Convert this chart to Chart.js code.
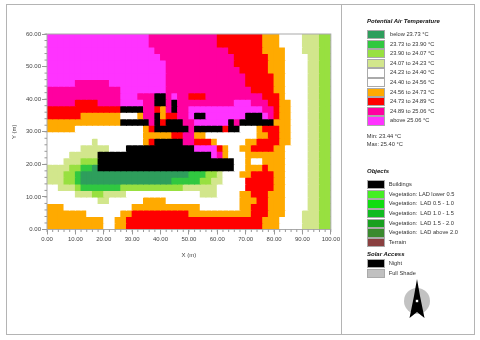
<!DOCTYPE html>
<html>
<head>
<meta charset="utf-8">
<title>Potential Air Temperature</title>
<script src="https://cdn.jsdelivr.net/npm/chart.js@4/dist/chart.umd.min.js"></script>
<style>
    html, body { margin: 0; padding: 0; background: #fff; }
    #page { position: relative; width: 480px; height: 340px; overflow: hidden; font-family: "Liberation Sans", sans-serif; color: #333; filter: blur(0.35px); }
    #chart { position: absolute; left: 0; top: 0; }
    .frame { position: absolute; background: #b4b4b4; }
    .txt { position: absolute; font-size: 5.7px; line-height: 8px; white-space: pre; }
    .head { font-weight: bold; font-style: italic; color: #111; font-size: 6px; }
    .swatch { position: absolute; width: 16px; height: 7.2px; border: 0.5px solid #aaa; }
</style>
</head>
<body>
<div id="page">
    <div class="frame" style="left:6px;top:4px;width:468px;height:1px"></div>
    <div class="frame" style="left:6px;top:334px;width:468px;height:1px"></div>
    <div class="frame" style="left:6px;top:4px;width:1px;height:331px"></div>
    <div class="frame" style="left:474px;top:4px;width:1px;height:331px"></div>
    <div class="frame" style="left:341px;top:4px;width:1px;height:331px"></div>
    <canvas id="chart" width="341" height="262"></canvas>
    <div id="legend"></div>
    <svg style="position:absolute;left:400px;top:276px" width="34" height="44" viewBox="0 0 34 44">
        <circle cx="17" cy="25" r="13" fill="#c2c2c2"/>
        <polygon points="17,3 20,20 24.5,42 17,36 9.5,42 14,20" fill="#000"/>
        <rect x="15.8" y="23.8" width="2.4" height="2.4" fill="#fff"/>
    </svg>
</div>

<script>
// temperature classes, top to bottom of the legend
const classCodes = ["d", "g", "l", "y", "w", "v", "o", "r", "m", "p"];
const classColors = ["#2e9e5c", "#30c840", "#98e040", "#d2e68c", "#ffffff", "#ffffff", "#ffaa00", "#ff0000", "#ff00a0", "#ff33ff"];
const classLabels = ["below 23.73 °C", "23.73 to 23.90 °C", "23.90 to 24.07 °C", "24.07 to 24.23 °C", "24.23 to 24.40 °C",
    "24.40 to 24.56 °C", "24.56 to 24.73 °C", "24.73 to 24.89 °C", "24.89 to 25.06 °C", "above 25.06 °C"];

const objectLabels = ["Buildings", "Vegetation: LAD lower 0.5", "Vegetation:  LAD 0.5 - 1.0", "Vegetation:  LAD 1.0 - 1.5",
    "Vegetation:  LAD 1.5 - 2.0", "Vegetation:  LAD above 2.0", "Terrain"];
const objectColors = ["#000000", "#44ee22", "#10dd10", "#10bb20", "#18a020", "#3a8a2e", "#8a4040"];
const solarLabels = ["Night", "Full Shade"];
const solarColors = ["#000000", "#c0c0c0"];

const cellWidth = 2;    // metres
const cellHeight = 2;

// one line per grid row from y=60 down to y=0: class code + run length, k = building
const gridRows = [
    "p18 m12 r8 o3 w4 y3 l2",
    "p18 m12 r8 o3 w4 y3 l2",
    "p19 m13 r6 o4 w3 y3 l2",
    "p20 m13 r6 o3 w4 y2 l2",
    "p21 m12 r6 o3 w4 y2 l2",
    "p21 m13 r5 o3 w4 y2 l2",
    "p21 m14 r5 o2 w4 y2 l2",
    "p5 m6 p10 m14 r5 o2 w4 y2 l2",
    "m13 p8 m15 r4 o2 w4 y2 l2",
    "m13 p3 m3 k2 m1 p1 m2 r3 m10 r3 o1 w4 y2 l2",
    "m5 r4 m4 p4 m2 k2 m1 k1 m10 p3 m3 r2 o2 w3 y2 l2",
    "r13 k4 m2 r1 o1 m1 k1 m2 p13 m2 r1 o2 w3 y2 l2",
    "r6 o7 w3 o1 m2 k1 o1 r2 m2 p1 k2 p7 k3 p1 m1 r1 o2 w3 y2 l2",
    "o13 k5 m1 k1 r1 k3 m2 p6 k1 m1 k6 o3 w3 y2 l2",
    "o5 w12 o1 r1 k6 m1 k5 r1 k2 w3 o1 r3 o2 w3 y2 l2",
    "w17 o5 r2 m2 o2 w9 o2 r2 o2 w3 y2 l2",
    "w8 y1 w8 o1 r1 k5 m2 r3 o1 w5 o2 r4 o2 w3 y2 l2",
    "w6 y5 w3 k12 p4 r1 o1 w2 o2 r4 o2 w4 y2 l2",
    "w4 y5 k20 p1 m1 o1 w3 o7 w4 y2 l2",
    "w3 y3 l3 k24 w2 o1 w2 o4 w4 y2 l2",
    "y4 l2 g2 d1 k24 w2 o3 r1 o3 w4 y2 l2",
    "y3 l2 g1 d19 g3 l2 y1 w3 o2 r4 o2 w4 y2 l2",
    "y3 l2 g1 d16 g5 l2 y2 w4 r5 o2 w4 y2 l2",
    "w2 y3 l1 g7 l11 y6 w5 r5 o2 w4 y2 l2",
    "w5 y3 l2 y4 w13 y3 w4 o2 r3 o3 w4 y2 l2",
    "w9 y2 w6 o4 w13 o3 r2 o3 w4 y2 l2",
    "o3 w12 o12 w7 o2 r3 o3 w4 y2 l2",
    "o7 w6 o2 r10 o11 r3 o3 w3 y3 l2",
    "o10 w2 o2 r24 o3 w4 y3 l2",
    "o10 w2 o2 r24 o3 w4 y3 l2"
];

function cellColor(code) {
    if (code === "k") return "#000000";
    return classColors[classCodes.indexOf(code)];
}

function expandRow(row) {
    const cells = [];
    row.split(" ").forEach(run => {
        const count = parseInt(run.slice(1));
        for (let i = 0; i < count; i++) cells.push(run[0]);
    });
    return cells;
}

const datasets = gridRows.map((row, rowIndex) => {
    const cells = expandRow(row);
    const top = 60 - rowIndex * cellHeight;
    return {
        data: cells.map((code, col) => ({ x: col * cellWidth + cellWidth / 2, y: [top - cellHeight, top] })),
        backgroundColor: cells.map(cellColor),
        borderWidth: 0,
        inflateAmount: 0.5,     // no seams between neighbouring cells
        barPercentage: 1,
        categoryPercentage: 1,
        grouped: false
    };
});

// minor ticks every cell and the grey line round the plot
const plotExtras = {
    id: "plotExtras",
    afterDraw(chart) {
        const ctx = chart.ctx;
        const area = chart.chartArea;
        const xs = chart.scales.x;
        const ys = chart.scales.y;
        ctx.save();
        ctx.strokeStyle = "#aaaaaa";
        ctx.lineWidth = 1;
        ctx.strokeRect(area.left, area.top, area.right - area.left, area.bottom - area.top);
        ctx.strokeStyle = "#999999";
        ctx.beginPath();
        for (let v = 0; v <= 100; v += cellWidth) {
            const px = xs.getPixelForValue(v);
            ctx.moveTo(px, area.bottom);
            ctx.lineTo(px, area.bottom + 2.5);
        }
        for (let v = 0; v <= 60; v += cellHeight) {
            const py = ys.getPixelForValue(v);
            ctx.moveTo(area.left, py);
            ctx.lineTo(area.left - 2.5, py);
        }
        ctx.stroke();
        ctx.restore();
    }
};

const tickFont = { family: "'Liberation Sans'", size: 6 };

new Chart(document.getElementById("chart"), {
    type: "bar",
    data: { datasets },
    plugins: [plotExtras],
    options: {
        responsive: false,
        animation: false,
        layout: { padding: { top: 34, right: 8, left: 11, bottom: 0 } },
        plugins: { legend: { display: false }, tooltip: { enabled: false } },
        scales: {
            x: {
                type: "linear",
                offset: false,
                min: 0,
                max: 100,
                afterFit: s => { s.height = 32.5; },
                grid: { offset: false, drawOnChartArea: false, tickLength: 5, tickColor: "#999999" },
                border: { color: "#999999" },
                ticks: { stepSize: 10, maxRotation: 0, autoSkip: false, color: "#444444", font: tickFont, padding: 1, callback: v => v.toFixed(2) },
                title: { display: true, text: "X (m)", color: "#444444", font: tickFont, padding: { top: 0, bottom: 3 } }
            },
            y: {
                min: 0,
                max: 60,
                afterFit: s => { s.width = 36; },
                grid: { drawOnChartArea: false, tickLength: 5, tickColor: "#999999" },
                border: { color: "#999999" },
                ticks: { stepSize: 10, autoSkip: false, color: "#444444", font: tickFont, padding: 1, callback: v => v.toFixed(2) },
                title: { display: true, text: "Y (m)", color: "#444444", font: tickFont, padding: { top: 0, bottom: 0 } }
            }
        }
    }
});

// right hand legend
const legend = document.getElementById("legend");

function addText(text, x, y, cls) {
    const el = document.createElement("div");
    el.className = cls;
    el.textContent = text;
    el.style.left = x + "px";
    el.style.top = (y - 4) + "px";
    legend.appendChild(el);
}

function addSwatch(color, x, y) {
    const el = document.createElement("div");
    el.className = "swatch";
    el.style.background = color;
    el.style.left = x + "px";
    el.style.top = (y - 4) + "px";
    legend.appendChild(el);
}

addText("Potential Air Temperature", 367, 20.7, "txt head");
classLabels.forEach((label, i) => {
    const y = 34 + i * 9.6;
    addSwatch(classColors[i], 366.5, y);
    addText(label, 390, y, "txt");
});
addText("Min: 23.44 °C", 366.7, 136, "txt");
addText("Max: 25.40 °C", 366.7, 144, "txt");

addText("Objects", 367, 171, "txt head");
objectLabels.forEach((label, i) => {
    const y = 184 + i * 9.67;
    addSwatch(objectColors[i], 366.5, y);
    addText(label, 388.7, y, "txt");
});

addText("Solar Access", 367, 254, "txt head");
solarLabels.forEach((label, i) => {
    const y = 263 + i * 9.67;
    addSwatch(solarColors[i], 366.5, y);
    addText(label, 388.7, y, "txt");
});
</script>
</body>
</html>
